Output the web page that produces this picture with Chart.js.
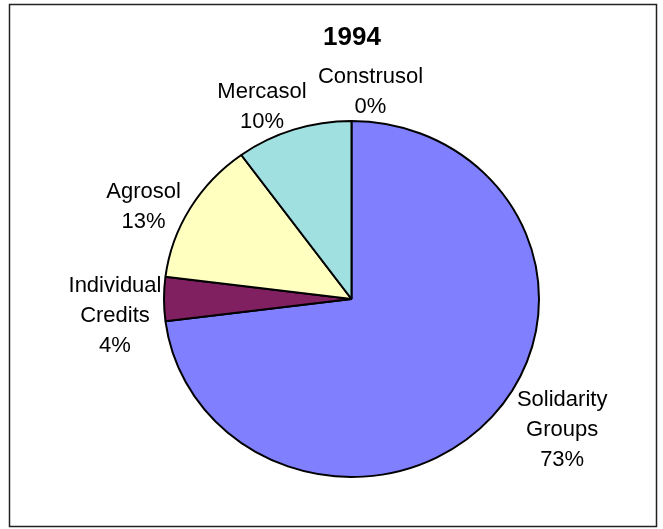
<!DOCTYPE html>
<html>
<head>
<meta charset="utf-8">
<script src="https://cdn.jsdelivr.net/npm/chart.js@4"></script>
<style>
  html, body { margin: 0; padding: 0; background: #fff; }
  canvas { display: block; }
</style>
</head>
<body>
<canvas id="pie" width="663" height="529"></canvas>
<script>
const categories = [['Solidarity', 'Groups'], ['Individual', 'Credits'], ['Agrosol'], ['Mercasol'], ['Construsol']];
const shares = [73, 4, 13, 10, 0];
const sliceColors = ['#8080FF', '#802060', '#FFFFC0', '#A0E0E0', '#600080'];
const chartTitle = '1994';

// pie is drawn a bit flatter than a circle
const squash = 178 / 187.5;

// label anchor relative to the slice edge at its mid angle: [dx, dy of first baseline]
const labelNudge = [[70, -11], [-49, -7], [-46.5, -10], [-31.6, -31.7], [19, -38]];

const frame = {
    id: 'frame',
    beforeDraw(chart) {
        const ctx = chart.ctx;
        ctx.save();
        ctx.fillStyle = '#fff';
        ctx.fillRect(0, 0, chart.width, chart.height);
        ctx.restore();
    },
    afterDraw(chart) {
        const ctx = chart.ctx;
        ctx.save();
        ctx.strokeStyle = '#222';
        ctx.lineWidth = 1.5;
        ctx.strokeRect(9.5, 4.5, 647, 522);
        ctx.fillStyle = '#000';
        ctx.textAlign = 'center';
        ctx.textBaseline = 'alphabetic';
        ctx.font = 'bold 26px "Liberation Sans", Arial, sans-serif';
        ctx.fillText(chartTitle, 352, 45);
        ctx.restore();
    }
};

const flatten = {
    id: 'flatten',
    beforeDatasetsDraw(chart) {
        const arc = chart.getDatasetMeta(0).data[0];
        const ctx = chart.ctx;
        ctx.save();
        ctx.translate(arc.x, arc.y);
        ctx.scale(1, squash);
        ctx.translate(-arc.x, -arc.y);
    },
    afterDatasetsDraw(chart) {
        chart.ctx.restore();
    }
};

const sliceLabels = {
    id: 'sliceLabels',
    afterDatasetsDraw(chart) {
        const ctx = chart.ctx;
        const meta = chart.getDatasetMeta(0);
        const total = shares.reduce((a, b) => a + b, 0);
        ctx.save();
        ctx.fillStyle = '#000';
        ctx.textAlign = 'center';
        ctx.textBaseline = 'alphabetic';
        ctx.font = '22px "Liberation Sans", Arial, sans-serif';
        meta.data.forEach((arc, i) => {
            const p = arc.getProps(['x', 'y', 'startAngle', 'endAngle', 'outerRadius'], true);
            const mid = (p.startAngle + p.endAngle) / 2;
            const ex = p.x + p.outerRadius * Math.cos(mid);
            const ey = p.y + p.outerRadius * squash * Math.sin(mid);
            const lines = categories[i].concat([Math.round(shares[i] / total * 100) + '%']);
            const x = ex + labelNudge[i][0];
            let y = ey + labelNudge[i][1];
            lines.forEach(t => {
                ctx.fillText(t, x, y);
                y += 30;
            });
        });
        ctx.restore();
    }
};

new Chart(document.getElementById('pie'), {
    type: 'pie',
    data: {
        labels: categories.map(c => c.join(' ')),
        datasets: [{
            data: shares,
            backgroundColor: sliceColors,
            borderColor: '#000',
            borderWidth: 2
        }]
    },
    options: {
        responsive: false,
        animation: false,
        layout: {
            padding: { top: 110.5, bottom: 41.5, left: 163, right: 123 }
        },
        plugins: {
            legend: { display: false },
            tooltip: { enabled: false },
            title: { display: false }
        }
    },
    plugins: [frame, flatten, sliceLabels]
});
</script>
</body>
</html>
